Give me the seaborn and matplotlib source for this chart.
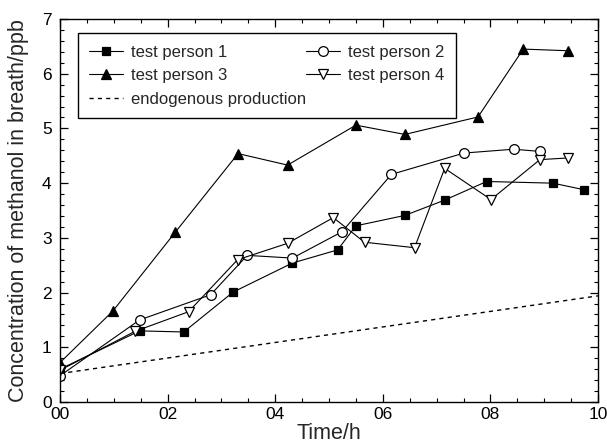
import matplotlib
matplotlib.use("Agg")
import matplotlib.pyplot as plt
import seaborn as sns
import numpy as np
from matplotlib.ticker import MultipleLocator, FixedLocator, FixedFormatter

# ---- data ----
p1_t = [0.0, 1.48, 2.30, 3.22, 4.32, 5.16, 5.50, 6.41, 7.15, 7.93, 9.16, 9.74]
p1_c = [0.60, 1.30, 1.28, 2.01, 2.54, 2.78, 3.22, 3.41, 3.69, 4.03, 4.00, 3.88]

p2_t = [0.0, 1.48, 2.80, 3.48, 4.32, 5.24, 6.16, 7.51, 8.43, 8.92]
p2_c = [0.48, 1.50, 1.96, 2.68, 2.63, 3.11, 4.16, 4.55, 4.62, 4.58]

p3_t = [0.0, 0.98, 2.14, 3.31, 4.23, 5.50, 6.41, 7.77, 8.61, 9.44]
p3_c = [0.72, 1.66, 3.10, 4.54, 4.33, 5.06, 4.89, 5.21, 6.45, 6.42]

p4_t = [0.0, 1.39, 2.39, 3.30, 4.23, 5.08, 5.66, 6.59, 7.15, 8.01, 8.92, 9.44]
p4_c = [0.58, 1.29, 1.65, 2.60, 2.90, 3.37, 2.92, 2.82, 4.27, 3.70, 4.43, 4.46]

endo_t = [0.0, 10.0]
endo_c = [0.52, 1.94]

x_ticks = [0, 2, 4, 6, 8, 10]
x_ticklabels = ["00", "02", "04", "06", "08", "10"]

sns.set_style("ticks")
plt.rcParams["font.family"] = ["Liberation Sans", "DejaVu Sans"]

fig = plt.figure(figsize=(6.07, 4.43), dpi=100)
ax = fig.add_axes([60/607, 1-402/443, 538/607, 383/443])

common = dict(color="black", linewidth=0.8, markeredgecolor="black",
              markeredgewidth=0.9, ax=ax)
sns.lineplot(x=p1_t, y=p1_c, marker="s", markersize=6, markerfacecolor="black",
             label="test person 1", **common)
sns.lineplot(x=p2_t, y=p2_c, marker="o", markersize=7, markerfacecolor="white",
             label="test person 2", **common)
sns.lineplot(x=p3_t, y=p3_c, marker="^", markersize=7.5, markerfacecolor="black",
             label="test person 3", **common)
sns.lineplot(x=p4_t, y=p4_c, marker="v", markersize=7.5, markerfacecolor="white",
             label="test person 4", **common)
sns.lineplot(x=endo_t, y=endo_c, color="black", linewidth=1.0, linestyle=(0, (3, 3)),
             label="endogenous production", ax=ax)

ax.set_xlim(0, 10)
ax.set_ylim(0, 7)
ax.xaxis.set_major_locator(FixedLocator(x_ticks))
ax.xaxis.set_major_formatter(FixedFormatter(x_ticklabels))
ax.xaxis.set_minor_locator(MultipleLocator(0.5))
ax.yaxis.set_major_locator(MultipleLocator(1))
ax.yaxis.set_minor_locator(MultipleLocator(0.2))
ax.tick_params(which="both", direction="in", top=True, right=True, colors="black",
               labelsize=12.5)
ax.tick_params(axis="y", which="major", pad=6)
ax.tick_params(which="major", length=6, width=0.9)
ax.tick_params(which="minor", length=3, width=0.8)
for s in ax.spines.values():
    s.set_color("black")
    s.set_linewidth(1.0)

ax.set_xlabel("Time/h", fontsize=15.5, labelpad=1)
ax.set_ylabel("Concentration of methanol in breath/ppb", fontsize=15.5, labelpad=9)

handles, labels = ax.get_legend_handles_labels()
order = [0, 2, 4, 1, 3]
leg = ax.legend([handles[i] for i in order], [labels[i] for i in order],
                ncol=2, loc="upper left", bbox_to_anchor=(0.033, 0.963),
                frameon=True, fancybox=False, framealpha=1, edgecolor="black",
                fontsize=12, handlelength=2.0, columnspacing=0.0,
                borderpad=0.7, labelspacing=0.5, handletextpad=0.5,
                borderaxespad=0)
leg.get_frame().set_linewidth(1.0)

fig.savefig("out.png", dpi=100)
